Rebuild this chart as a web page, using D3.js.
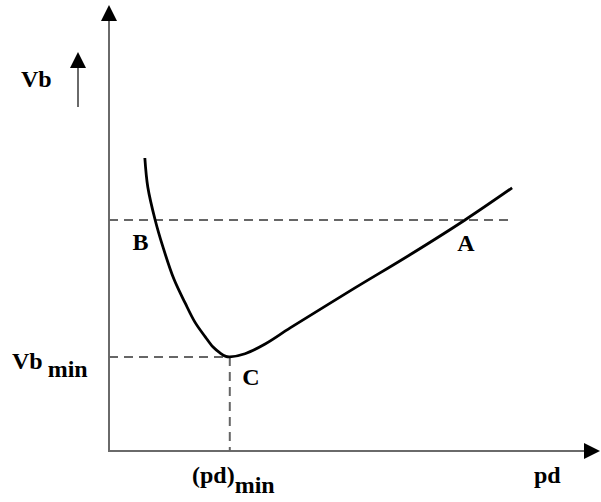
<!DOCTYPE html>
<html><head><meta charset="utf-8">
<script src="https://cdn.jsdelivr.net/npm/d3@7"></script>
<style>body{margin:0;background:#fff}svg{display:block}</style>
</head><body>
<script>
// Paschen curve (schematic), units arbitrary
const pdValues = [0.73,0.79,0.94,1.10,1.32,1.55,1.75,1.96,2.12,2.26,2.38,2.46,2.77,3.18,3.69,4.91,6.13,7.25,8.21];
const vbValues = [6.57,5.92,5.18,4.57,3.86,3.32,2.89,2.56,2.33,2.20,2.12,2.11,2.18,2.40,2.76,3.59,4.40,5.18,5.90];
const pdMin = 2.46, vbMin = 2.11, vbLevel = 5.18, pdEnd = 8.21;
const pointLabels = [{t:"B", pd:0.64, vb:4.51},{t:"A", pd:7.27, vb:4.48},{t:"C", pd:2.89, vb:1.48}];

const W=601,H=502;
const x=d3.scaleLinear().domain([0,10]).range([109,600]);
const y=d3.scaleLinear().domain([0,10]).range([451,5]);
const svg=d3.select("body").append("svg").attr("width",W).attr("height",H);
const font="'Liberation Serif','Times New Roman',serif";
const fs=24;

// axes
const axisCol="#6a6a6a";
svg.append("line").attr("x1",x(0)).attr("y1",y(0)).attr("x2",x(0)).attr("y2",y(10)+14)
  .attr("stroke",axisCol).attr("stroke-width",2);
svg.append("line").attr("x1",x(0)-1).attr("y1",y(0)).attr("x2",x(10)-14).attr("y2",y(0))
  .attr("stroke",axisCol).attr("stroke-width",2);
svg.append("path").attr("d",`M${x(0)},${y(10)} L${x(0)-8},${y(10)+16} L${x(0)+8},${y(10)+16}Z`).attr("fill","#000");
svg.append("path").attr("d",`M${x(10)},${y(0)} L${x(10)-16},${y(0)-8} L${x(10)-16},${y(0)+8}Z`).attr("fill","#000");

// small arrow next to Vb
svg.append("line").attr("x1",78).attr("y1",107).attr("x2",78).attr("y2",62).attr("stroke",axisCol).attr("stroke-width",2);
svg.append("path").attr("d","M78,52 L70,68 L86,68Z").attr("fill","#000");

// dashed guides
function dl(x1,y1,x2,y2){svg.append("line").attr("x1",x1).attr("y1",y1).attr("x2",x2).attr("y2",y2)
  .attr("stroke","#666").attr("stroke-width",2).attr("stroke-dasharray","9,6");}
dl(x(0),y(vbLevel),x(pdEnd),y(vbLevel));
dl(x(0),y(vbMin),x(pdMin),y(vbMin));
dl(x(pdMin),y(vbMin),x(pdMin),y(0));

// curve
const pts=pdValues.map((p,i)=>[p,vbValues[i]]);
svg.append("path").datum(pts)
  .attr("d",d3.line().x(d=>x(d[0])).y(d=>y(d[1])).curve(d3.curveCatmullRom.alpha(0.5)))
  .attr("fill","none").attr("stroke","#000").attr("stroke-width",2.8);

// labels
pointLabels.forEach(l=>{
  svg.append("text").attr("x",x(l.pd)).attr("y",y(l.vb)).attr("text-anchor","middle")
    .attr("font-family",font).attr("font-weight","bold").attr("font-size",fs).text(l.t);
});
svg.append("text").attr("x",21).attr("y",87).attr("font-family",font).attr("font-weight","bold").attr("font-size",fs).text("Vb");
const vbm=svg.append("text").attr("x",12).attr("y",369).attr("font-family",font).attr("font-weight","bold").attr("font-size",fs);
vbm.append("tspan").text("Vb");
vbm.append("tspan").attr("dx",5).attr("dy",8).text("min");
const pdm=svg.append("text").attr("x",192).attr("y",483).attr("font-family",font).attr("font-weight","bold").attr("font-size",fs);
pdm.append("tspan").text("(pd)");
pdm.append("tspan").attr("dy",10).text("min");
svg.append("text").attr("x",534).attr("y",483).attr("font-family",font).attr("font-weight","bold").attr("font-size",fs).text("pd");
</script>
</body></html>
